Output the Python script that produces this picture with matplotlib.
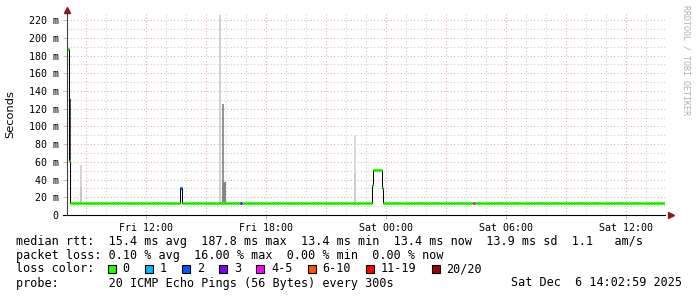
import matplotlib
matplotlib.use('Agg')
import matplotlib.pyplot as plt
from matplotlib.patches import Rectangle
import numpy as np

# time axis in hours since Fri 00:00, 5 minute steps
t_start = 8.05
step_h = 1 / 12.0
n_steps = 359

# median rtt (ms): baseline plus the steps that stand out
median_base = 13.6
med_idx = [0, 1, 68, 183, 184, 185, 186, 187, 188, 189]
med_val = [187.8, 61.0, 31.0, 34.0, 51.0, 51.0, 51.0, 51.0, 51.0, 31.0]

# loss class per step (default '0')
loss_idx = [68, 104, 244]
loss_cls = ['2', '3', '4-5']

# smoke (ping spread) bars: step index, low ms, high ms, shade
smoke_idx = [1, 8, 8, 91, 93, 93, 94, 172, 172]
smoke_lo = [61, 14, 14, 14, 37, 14, 14, 14, 14]
smoke_hi = [131, 57, 32, 226, 125, 37, 37, 90, 47]
smoke_col = ['#4a4a4a', '#d4d4d4', '#c6c6c6', '#d2d2d2', '#959595', '#858585',
             '#858585', '#dadada', '#cccccc']

loss_names = ['0', '1', '2', '3', '4-5', '6-10', '11-19', '20/20']
loss_colors = ['#26ff00', '#00b8ff', '#0059ff', '#7e00ff', '#ff00ff',
               '#ff5500', '#ff0000', '#a10000']

yticks = [0, 20, 40, 60, 80, 100, 120, 140, 160, 180, 200, 220]
xtick_hours = [12, 18, 24, 30, 36]
xtick_labels = ['Fri 12:00', 'Fri 18:00', 'Sat 00:00', 'Sat 06:00', 'Sat 12:00']

legend_rows = [
    'median rtt:  15.4 ms avg  187.8 ms max  13.4 ms min  13.4 ms now  13.9 ms sd  1.1   am/s',
    'packet loss: 0.10 % avg  16.00 % max  0.00 % min  0.00 % now',
]
probe_text = 'probe:       20 ICMP Echo Pings (56 Bytes) every 300s'
date_text = 'Sat Dec  6 14:02:59 2025'

W, H = 697, 297
mono = 'DejaVu Sans Mono'

median = np.full(n_steps, median_base)
median[med_idx] = med_val
loss = ['0'] * n_steps
for i, c in zip(loss_idx, loss_cls):
    loss[i] = c
edges = t_start + np.arange(n_steps + 1) * step_h

fig = plt.figure(figsize=(W / 100, H / 100), dpi=100)
fig.patch.set_facecolor('white')
ax = fig.add_axes([67 / W, 1 - 215 / H, 598 / W, 202 / H])
ax.set_xlim(edges[0], edges[-1])
ax.set_ylim(0, 228)

# grid, dotted
grid_minor = '#cfcfcf'
grid_major = '#e4b0b0'
dots = (0, (1, 2))
for h in np.arange(9, 38, 1):
    ax.axvline(h, color=grid_major if h % 3 == 0 else grid_minor, lw=0.8,
               ls=dots, zorder=0)
for v in range(10, 228, 10):
    ax.axhline(v, color=grid_major if v % 20 == 0 else grid_minor, lw=0.8,
               ls=dots, zorder=0)

# smoke
for i, lo, hi, c in zip(smoke_idx, smoke_lo, smoke_hi, smoke_col):
    ax.bar(edges[i], hi - lo, bottom=lo, width=step_h * 1.2, align='edge',
           color=c, lw=0, zorder=1)

# median line: black transitions, loss-coloured levels
ax.stairs(median, edges, baseline=None, color='black', lw=0.75, zorder=2)
cmap = dict(zip(loss_names, loss_colors))
ax.hlines(median, edges[:-1], edges[1:], colors=[cmap[c] for c in loss],
          lw=2.3, capstyle='butt', zorder=3)

# axes
for s in ax.spines.values():
    s.set_visible(False)
ax.plot([-0.007, 1.0], [0, 0], transform=ax.transAxes, color='black', lw=0.8,
        clip_on=False, zorder=4)
ax.plot([0, 0], [0, 1.01], transform=ax.transAxes, color='#444444', lw=0.8,
        clip_on=False, zorder=4)
ax.plot([1.01], [0], marker='>', ms=4, color='#8b1a1a', transform=ax.transAxes,
        clip_on=False, zorder=5)
ax.plot([0], [1.015], marker='^', ms=4, color='#8b1a1a', transform=ax.transAxes,
        clip_on=False, zorder=5)

ax.set_yticks(yticks)
ax.set_yticklabels(['0' if v == 0 else f'{v} m' for v in yticks],
                   fontfamily=mono, fontsize=7.2)
ax.set_xticks(xtick_hours)
ax.set_xticklabels(xtick_labels, fontfamily=mono, fontsize=7.2)
ax.tick_params(axis='both', length=3, width=0.7, color=grid_major, pad=3)
ax.set_ylabel('Seconds', fontfamily='DejaVu Sans', fontsize=8.2)
ax.yaxis.set_label_coords(-0.086, 0.5)

fig.text(686 / W, 1 - 5 / H, 'RRDTOOL / TOBI OETIKER', rotation=270,
         fontfamily=mono, fontsize=6, color='#b0b0b0', ha='center', va='top')

# legend text
row_y = [241.5, 255, 269, 283]
for y, s in zip(row_y[:2], legend_rows):
    fig.text(16 / W, 1 - y / H, s, fontfamily=mono, fontsize=8.5, va='center')
fig.text(16 / W, 1 - row_y[2] / H, 'loss color:', fontfamily=mono,
         fontsize=8.5, va='center')
fig.text(16 / W, 1 - row_y[3] / H, probe_text, fontfamily=mono, fontsize=8.5,
         va='center')
fig.text(682 / W, 1 - row_y[3] / H, date_text, fontfamily=mono, fontsize=8.5,
         va='center', ha='right')

char_w = 7.1
x = 108.0
for name, col in zip(loss_names, loss_colors):
    fig.patches.append(Rectangle((x / W, 1 - (row_y[2] + 3.5) / H), 8 / W, 8 / H,
                                 transform=fig.transFigure, facecolor=col,
                                 edgecolor='black', lw=0.8))
    fig.text((x + 14.5) / W, 1 - row_y[2] / H, name, fontfamily=mono,
             fontsize=8.5, va='center')
    x += 14.5 + len(name) * char_w + 15.5

fig.savefig('out.png', dpi=100)
